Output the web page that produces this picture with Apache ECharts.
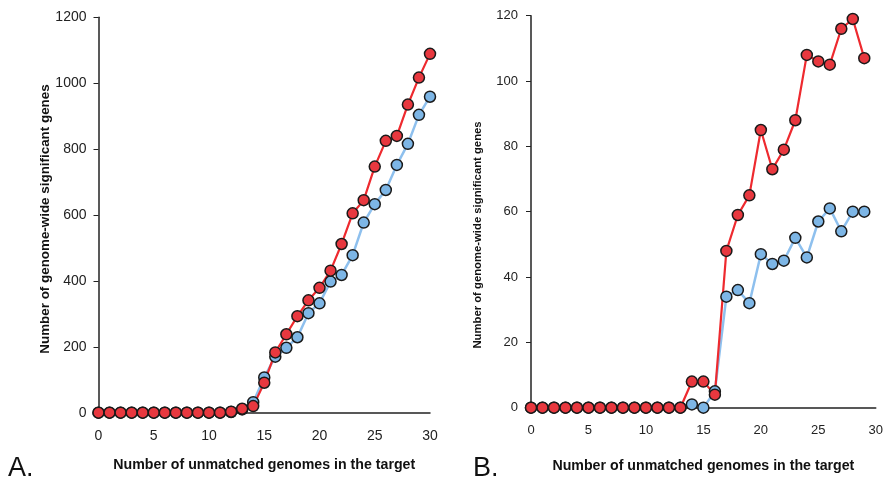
<!DOCTYPE html>
<html lang="en">
<head>
    <meta charset="UTF-8">
    <title>Genome-wide significant genes</title>
    <script src="https://cdn.jsdelivr.net/npm/echarts@6/dist/echarts.min.js"></script>
    <style>
        html, body { margin: 0; padding: 0; background: #fff; }
        #main { width: 886px; height: 482px; }
    </style>
</head>
<body>
<div id="main"></div>
<script>
    // panel A
    var genomesA = [0, 1, 2, 3, 4, 5, 6, 7, 8, 9, 10, 11, 12, 13, 14, 15, 16, 17, 18, 19, 20, 21, 22, 23, 24, 25, 26, 27, 28, 29, 30];
    var redA = [0, 0, 0, 0, 0, 0, 0, 0, 0, 0, 0, 0, 3, 12, 20, 91, 183, 238, 293, 341, 379, 431, 512, 605, 645, 747, 825, 840, 935, 1017, 1089];
    var blueA = [0, 0, 0, 0, 0, 0, 0, 0, 0, 0, 0, 0, 2, 10, 32, 107, 170, 197, 229, 302, 332, 398, 418, 478, 577, 633, 676, 752, 816, 904, 959];
    // panel B
    var genomesB = [0, 1, 2, 3, 4, 5, 6, 7, 8, 9, 10, 11, 12, 13, 14, 15, 16, 17, 18, 19, 20, 21, 22, 23, 24, 25, 26, 27, 28, 29];
    var redB = [0, 0, 0, 0, 0, 0, 0, 0, 0, 0, 0, 0, 0, 0, 8, 8, 4, 48, 59, 65, 85, 73, 79, 88, 108, 106, 105, 116, 119, 107];
    var blueB = [0, 0, 0, 0, 0, 0, 0, 0, 0, 0, 0, 0, 0, 0, 1, 0, 5, 34, 36, 32, 47, 44, 45, 52, 46, 57, 61, 54, 60, 60];

    var xTitle = 'Number of unmatched genomes in the target';
    var yTitle = 'Number of genome-wide significant genes';
    var font = '"Liberation Sans", Arial, sans-serif';

    function pairs(xs, ys) {
        var out = [];
        for (var i = 0; i < xs.length; i++) {
            out.push([xs[i], ys[i]]);
        }
        return out;
    }

    function plain(v) {
        return String(v);
    }

    function xAxis(idx, labelSize, margin, gap) {
        return {
            type: 'value', gridIndex: idx, min: 0, max: 30, interval: 5,
            axisLine: {lineStyle: {color: '#222', width: 1.5}},
            axisTick: {show: false},
            splitLine: {show: false},
            axisLabel: {color: '#222', fontSize: labelSize, fontFamily: font, margin: margin, formatter: plain},
            name: xTitle, nameLocation: 'middle', nameGap: gap,
            nameTextStyle: {color: '#111', fontSize: 14.2, fontWeight: 'bold', fontFamily: font}
        };
    }

    function yAxis(idx, max, interval, labelSize, margin) {
        return {
            type: 'value', gridIndex: idx, min: 0, max: max, interval: interval,
            axisLine: {show: true, lineStyle: {color: '#222', width: 1.5}},
            axisTick: {show: true, length: 5, lineStyle: {color: '#222'}},
            splitLine: {show: false},
            axisLabel: {color: '#222', fontSize: labelSize, fontFamily: font, margin: margin, formatter: plain}
        };
    }

    function line(idx, data, lineColor, fill, width) {
        return {
            type: 'line', xAxisIndex: idx, yAxisIndex: idx,
            data: data,
            symbol: 'circle', symbolSize: 11,
            lineStyle: {color: lineColor, width: width},
            itemStyle: {color: fill, borderColor: '#1a1a1a', borderWidth: 1.5},
            emphasis: {disabled: true}
        };
    }

    var option = {
        animation: false,
        backgroundColor: '#fff',
        grid: [
            {left: 98.5, top: 17.3, width: 331.5, height: 395.4},
            {left: 531, top: 15.7, width: 347, height: 392}
        ],
        xAxis: [xAxis(0, 14, 16, 45), xAxis(1, 13, 16, 51)],
        yAxis: [yAxis(0, 1200, 200, 14, 12), yAxis(1, 120, 20, 13, 13)],
        series: [
            line(0, pairs(genomesA, blueA), '#8ec0ee', '#7db6e6', 2.5),
            line(0, pairs(genomesA, redA), '#ee2a2f', '#e8383f', 2.2),
            line(1, pairs(genomesB, blueB), '#8ec0ee', '#7db6e6', 2.5),
            line(1, pairs(genomesB, redB), '#ee2a2f', '#e8383f', 2.2)
        ],
        graphic: [
            {type: 'text', x: 45, y: 219, rotation: Math.PI / 2,
                style: {text: yTitle, font: 'bold 13.4px ' + font, fill: '#111', align: 'center', verticalAlign: 'middle'}},
            {type: 'text', x: 478, y: 235, rotation: Math.PI / 2,
                style: {text: yTitle, font: 'bold 11.3px ' + font, fill: '#111', align: 'center', verticalAlign: 'middle'}},
            {type: 'text', x: 8, y: 469,
                style: {text: 'A.', font: '27px ' + font, fill: '#111', align: 'left', verticalAlign: 'middle'}},
            {type: 'text', x: 473, y: 469,
                style: {text: 'B.', font: '27px ' + font, fill: '#111', align: 'left', verticalAlign: 'middle'}}
        ]
    };

    var myChart = echarts.init(document.getElementById('main'));
    myChart.setOption(option);
</script>
</body>
</html>
